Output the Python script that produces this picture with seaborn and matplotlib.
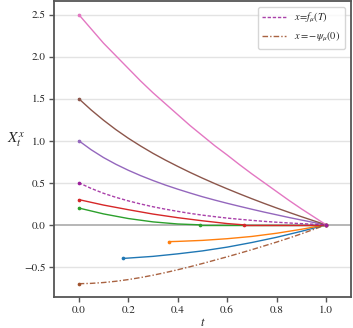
import matplotlib
matplotlib.use("Agg")
import matplotlib.pyplot as plt
import seaborn as sns

# sample times and the paths
t_full = [0.0, 0.05, 0.1, 0.15, 0.2, 0.25, 0.3, 0.35, 0.4, 0.45, 0.5,
          0.55, 0.6, 0.65, 0.7, 0.75, 0.8, 0.85, 0.9, 0.95, 1.0]

x_pink = [2.5, 2.33, 2.16, 2.01, 1.86, 1.71, 1.57, 1.44, 1.31, 1.18, 1.06,
          0.94, 0.83, 0.715, 0.605, 0.5, 0.395, 0.29, 0.19, 0.095, 0.0]
x_brown = [1.5, 1.366, 1.244, 1.132, 1.03, 0.937, 0.85, 0.77, 0.695, 0.623, 0.555,
           0.49, 0.428, 0.368, 0.31, 0.254, 0.2, 0.148, 0.097, 0.048, 0.0]
x_purple = [1.0, 0.893, 0.80, 0.72, 0.649, 0.585, 0.527, 0.473, 0.424, 0.378, 0.334,
            0.294, 0.256, 0.22, 0.185, 0.151, 0.119, 0.087, 0.057, 0.028, 0.0]
x_f = [0.5, 0.433, 0.375, 0.327, 0.285, 0.248, 0.215, 0.186, 0.16, 0.136, 0.115,
       0.097, 0.08, 0.066, 0.053, 0.041, 0.031, 0.022, 0.014, 0.007, 0.0]
x_psi = [-0.7, -0.696, -0.686, -0.671, -0.651, -0.627, -0.599, -0.568, -0.534, -0.498, -0.46,
         -0.42, -0.38, -0.338, -0.295, -0.25, -0.205, -0.157, -0.107, -0.054, 0.0]

t_red = [0.0, 0.1, 0.2, 0.3, 0.4, 0.5, 0.6, 0.667]
x_red = [0.3, 0.235, 0.18, 0.128, 0.085, 0.048, 0.015, 0.0]
t_green = [0.0, 0.1, 0.2, 0.3, 0.4, 0.49]
x_green = [0.2, 0.13, 0.075, 0.035, 0.01, 0.0]

t_orange = [0.363, 0.4, 0.5, 0.6, 0.7, 0.8, 0.9, 1.0]
x_orange = [-0.2, -0.197, -0.185, -0.165, -0.138, -0.1, -0.053, 0.0]
t_blue = [0.177, 0.3, 0.4, 0.5, 0.6, 0.7, 0.8, 0.9, 1.0]
x_blue = [-0.4, -0.375, -0.345, -0.31, -0.265, -0.21, -0.148, -0.077, 0.0]

sns.set_style("ticks")
plt.rcParams['font.family'] = ['STIXGeneral', 'DejaVu Serif']
plt.rcParams['mathtext.fontset'] = 'stix'

fig = plt.figure(figsize=(3.53, 3.28), dpi=100)
ax = fig.add_axes([0.153, 0.094, 0.841, 0.904])

for y in [-0.5, 0.5, 1.0, 1.5, 2.0, 2.5]:
    ax.axhline(y, color='#e3e3e3', lw=1.0, zorder=0)
ax.axhline(0, color='#aaaaaa', lw=1.2, zorder=0)

pal = sns.color_palette("tab10")

def path(t, x, c, **kw):
    sns.lineplot(x=t, y=x, color=c, lw=1.0, sort=False, ax=ax, **kw)
    sns.scatterplot(x=[t[0], t[-1]], y=[x[0], x[-1]], color=c, s=7,
                    linewidth=0, ax=ax, zorder=3)

path(t_blue, x_blue, pal[0])
path(t_orange, x_orange, pal[1])
path(t_green, x_green, pal[2])
sns.lineplot(x=[t_green[-1], 1.0], y=[0.0, 0.0], color=pal[2], lw=1.0, ax=ax)
path(t_red, x_red, pal[3])
sns.lineplot(x=[t_red[-1], 1.0], y=[0.0, 0.0], color=pal[3], lw=1.0, ax=ax)
path(t_full, x_purple, pal[4])
path(t_full, x_brown, pal[5])
path(t_full, x_pink, pal[6])
path(t_full, x_psi, '#a0522d', ls=(0, (4, 1.5, 1, 1.5)), alpha=0.9,
     label=r'$x = -\psi_\mu(0)$')
path(t_full, x_f, '#9b1f9b', ls=(0, (2.4, 1.3)), alpha=0.85,
     label=r'$x\!=\!f_\mu(T)$')

ax.set_xlim(-0.1, 1.1)
ax.set_ylim(-0.86, 2.665)
ax.set_xticks([0.0, 0.2, 0.4, 0.6, 0.8, 1.0])
ax.set_yticks([-0.5, 0.0, 0.5, 1.0, 1.5, 2.0, 2.5])
ax.tick_params(labelsize=8, length=3.5, width=1, pad=2.5, color='#555555')
for s in ax.spines.values():
    s.set_color('#555555')
    s.set_linewidth(1.3)

ax.set_xlabel(r'$t$', fontsize=9, labelpad=1)
ax.set_ylabel(r'$X_t^x$', fontsize=11, rotation=0, ha='center', va='center')
ax.yaxis.set_label_coords(-0.128, 0.53)

h, l = ax.get_legend_handles_labels()
ax.legend(h[::-1], l[::-1], loc='upper right', fontsize=7.5,
          handlelength=2.3, frameon=True, borderaxespad=0.6)

fig.savefig("out.png", dpi=100)
